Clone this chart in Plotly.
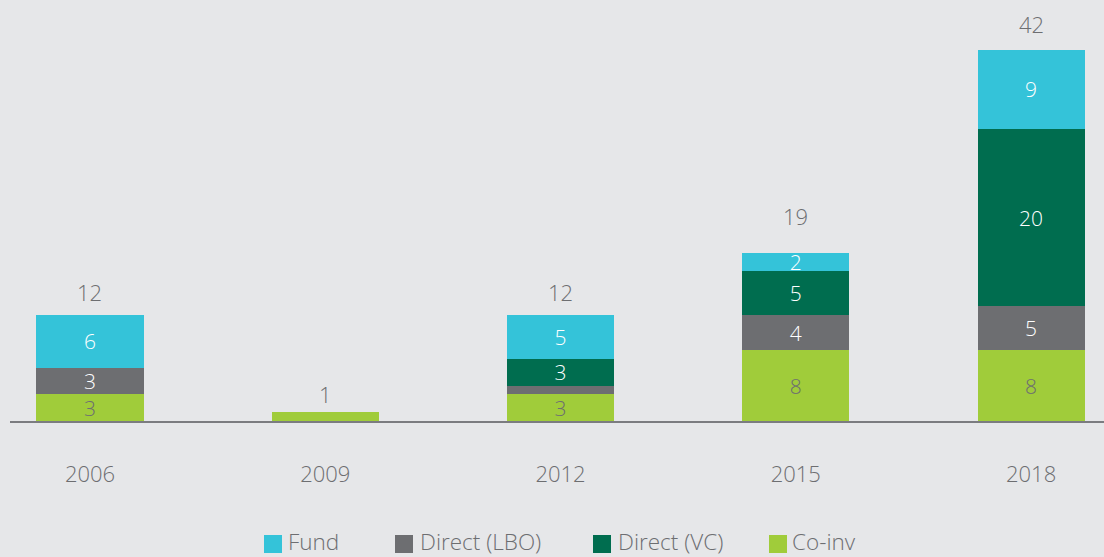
import plotly.graph_objects as go

years = ["2006", "2009", "2012", "2015", "2018"]
co_inv = [3, 1, 3, 8, 8]
direct_lbo = [3, 0, 1, 4, 5]
direct_vc = [0, 0, 3, 5, 20]
fund = [6, 0, 5, 2, 9]
totals = [12, 1, 12, 19, 42]

# segment labels (blank where the segment is too thin to carry one)
co_inv_text = ["3", "", "3", "8", "8"]
lbo_text = ["3", "", "", "4", "5"]
vc_text = ["", "", "3", "5", "20"]
fund_text = ["6", "", "5", "2", "9"]

colors = {
    "Co-inv": "#a0cc3a",
    "Direct (LBO)": "#6d6e71",
    "Direct (VC)": "#006d4f",
    "Fund": "#34c3d9",
}
legend_order = ["Fund", "Direct (LBO)", "Direct (VC)", "Co-inv"]
grey_text = "#6d6e71"
bg = "#e6e7e9"
font_family = "Open Sans, Lato, sans-serif"
font_weight = 300

W, H = 1104, 557
M_L, M_R, M_T, M_B = 10, 0, 0, 136
PLOT_W = W - M_L - M_R
PLOT_H = H - M_T - M_B


def paper_x(px):
    return (px - M_L) / PLOT_W


def paper_y(py):
    return (H - M_B - py) / PLOT_H


x = list(range(len(years)))
bar_width = 0.455

fig = go.Figure()
series = [
    ("Co-inv", co_inv, co_inv_text, grey_text),
    ("Direct (LBO)", direct_lbo, lbo_text, "white"),
    ("Direct (VC)", direct_vc, vc_text, "white"),
    ("Fund", fund, fund_text, "white"),
]
for name, vals, txt, tcolor in series:
    fig.add_trace(go.Bar(
        x=x, y=vals, name=name, width=bar_width, showlegend=False,
        marker=dict(color=colors[name], line=dict(width=0)),
        text=txt, textposition="inside", insidetextanchor="middle",
        constraintext="none", textangle=0,
        textfont=dict(size=21, color=tcolor, family=font_family,
                      weight=font_weight),
        hoverinfo="skip",
    ))

# total labels above each stack; vertical offsets in pixels
total_offsets = [23, 18, 23, 37, 26]
for xi, t, off in zip(x, totals, total_offsets):
    fig.add_annotation(
        x=xi, y=t, text=str(t), showarrow=False,
        yanchor="middle", yshift=off,
        font=dict(size=22, color=grey_text, family=font_family,
                  weight=font_weight),
    )

# legend drawn as coloured squares with labels beneath the axis
legend_square_px = [264, 395, 593, 769]
legend_text_px = [287, 419, 617, 791]
square = 18
legend_cy = 544
for name, sx, tx in zip(legend_order, legend_square_px, legend_text_px):
    fig.add_shape(
        type="rect", xref="paper", yref="paper",
        x0=paper_x(sx), x1=paper_x(sx + square),
        y0=paper_y(legend_cy + square / 2), y1=paper_y(legend_cy - square / 2),
        fillcolor=colors[name], line=dict(width=0), layer="above",
    )
    fig.add_annotation(
        xref="paper", yref="paper", x=paper_x(tx), y=paper_y(legend_cy - 3),
        xanchor="left", yanchor="middle", text=name, showarrow=False,
        borderpad=0,
        font=dict(size=22.5, color=grey_text, family=font_family,
                  weight=font_weight),
    )

fig.update_layout(
    barmode="stack",
    width=W, height=H,
    margin=dict(l=M_L, r=M_R, t=M_T, b=M_B),
    paper_bgcolor=bg, plot_bgcolor=bg,
    font=dict(family=font_family, color=grey_text, size=20,
              weight=font_weight),
    showlegend=False,
    xaxis=dict(
        range=[-0.340, 4.310], tickmode="array", tickvals=x, ticktext=years,
        showgrid=False, zeroline=False, showline=True, linecolor="#7b7c80",
        linewidth=2, ticks="", ticklabelstandoff=33, automargin=False,
        tickfont=dict(size=22, color=grey_text, family=font_family,
                      weight=font_weight),
        fixedrange=True,
    ),
    yaxis=dict(
        range=[0, 47.6], visible=False, showgrid=False, zeroline=False,
        fixedrange=True, automargin=False,
    ),
)

fig.write_html("out.html")
